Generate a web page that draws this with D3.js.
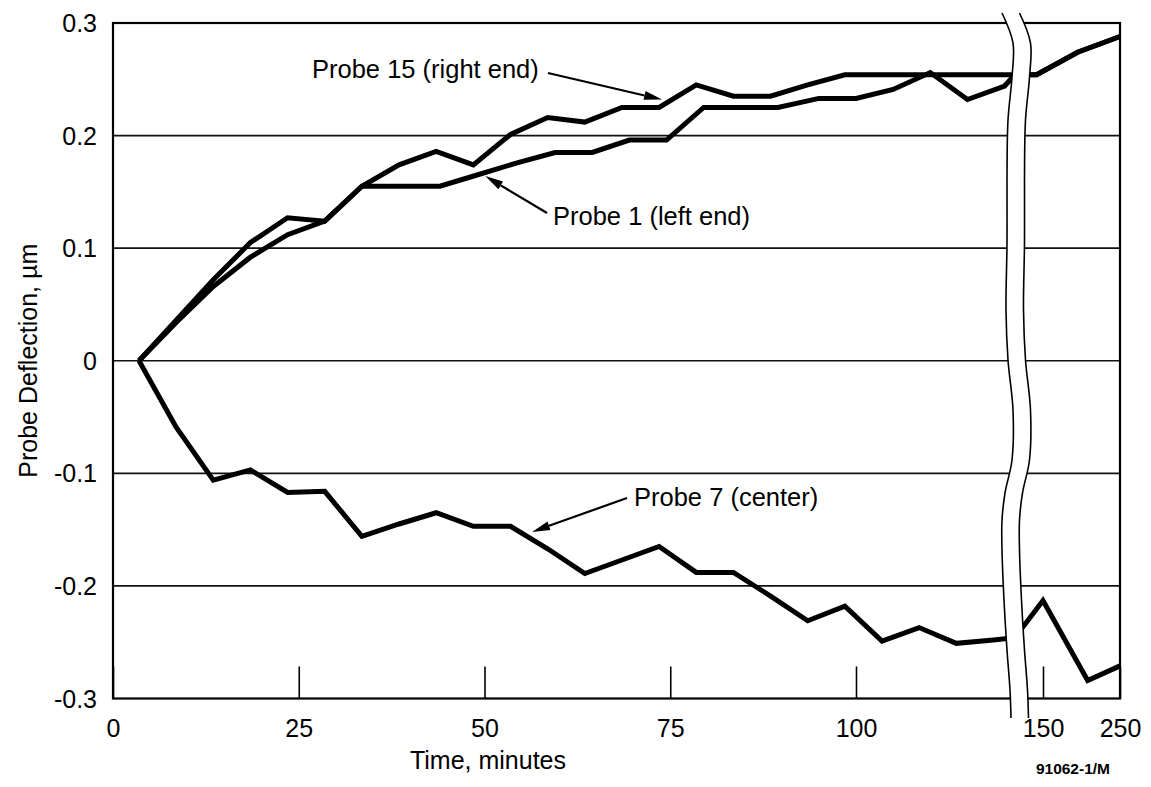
<!DOCTYPE html>
<html>
<head>
<meta charset="utf-8">
<script src="https://cdn.jsdelivr.net/npm/d3@7"></script>
<style>
  html, body { margin: 0; padding: 0; background: #fff; }
  svg { display: block; font-family: "Liberation Sans", Arial, Helvetica, sans-serif; }
</style>
</head>
<body>
<svg id="chart" width="1151" height="787"></svg>
<script>
// Sample times (minutes) of the readings before the axis break
const minutes15 = [3.5, 8.5, 13.5, 18.5, 23.5, 28.5, 33.5, 38.5, 43.5, 48.5, 53.5, 58.5,
                   63.5, 68.5, 73.5, 78.5, 83.5, 88.5, 93.5, 98.5, 103.5, 108.5, 113.5, 118.5];
const minutes1  = [3.5, 8.5, 13.5, 18.5, 23.5, 28.5, 33.5, 38.5, 44, 49, 54.5, 59.5,
                   64.5, 69.5, 74.5, 79.5, 84.5, 89.5, 95, 100, 105, 110, 115, 120];
const minutes7  = [3.5, 8.5, 13.5, 18.5, 23.5, 28.5, 33.5, 38.5, 43.5, 48.5, 53.5, 58.5,
                   63.5, 68.5, 73.5, 78.5, 83.5, 88.5, 93.5, 98.5, 103.5, 108.5, 113.5, 118.5];

// Probe deflections (µm) at those times
const probe15 = [0, 0.036, 0.072, 0.105, 0.127, 0.124, 0.155, 0.174, 0.186, 0.174, 0.201, 0.216,
                 0.212, 0.225, 0.225, 0.245, 0.235, 0.235, 0.245, 0.254, 0.254, 0.254, 0.254, 0.254];
const probe1  = [0, 0.034, 0.066, 0.092, 0.112, 0.124, 0.155, 0.155, 0.155, 0.165, 0.176, 0.185,
                 0.185, 0.196, 0.196, 0.225, 0.225, 0.225, 0.233, 0.233, 0.241, 0.256, 0.232, 0.244];
const probe7  = [0, -0.059, -0.106, -0.097, -0.117, -0.116, -0.156, -0.145, -0.135, -0.147, -0.147, -0.167,
                 -0.189, -0.177, -0.165, -0.188, -0.188, -0.209, -0.231, -0.218, -0.249, -0.237, -0.251, -0.248];

// Readings beyond the break
const lateMinutes15 = [128, 145, 195, 250];
const lateProbe15   = [0.254, 0.254, 0.274, 0.288];
const lateMinutes1  = [128, 145, 195, 250];
const lateProbe1    = [0.254, 0.254, 0.274, 0.288];
const lateMinutes7  = [128, 150, 208, 250];
const lateProbe7    = [-0.246, -0.213, -0.284, -0.271];

// Axis ticks
const xTicks = [0, 25, 50, 75, 100, 150, 250];
const yTicks = [-0.3, -0.2, -0.1, 0, 0.1, 0.2, 0.3];
const gridValues = [-0.2, -0.1, 0, 0.1, 0.2];

const svg = d3.select("#chart");
const FONT = '"Liberation Sans", Arial, Helvetica, sans-serif';

// Broken time axis: linear up to 120 min, compressed after the break
const x = d3.scaleLinear().domain([0, 120, 150, 250]).range([113, 1004.6, 1043, 1120]);
const y = d3.scaleLinear().domain([-0.3, 0.3]).range([698.5, 23]);

const x0 = x(0), x1 = x(250);
const yBottom = y(-0.3), yTop = y(0.3);

// Horizontal grid lines
svg.append("g")
  .selectAll("line")
  .data(gridValues)
  .join("line")
  .attr("x1", x0).attr("x2", x1)
  .attr("y1", d => y(d)).attr("y2", d => y(d))
  .attr("stroke", "#111")
  .attr("stroke-width", 1.6);

// Plot frame
svg.append("rect")
  .attr("x", x0).attr("y", yTop)
  .attr("width", x1 - x0).attr("height", yBottom - yTop)
  .attr("fill", "none")
  .attr("stroke", "#000")
  .attr("stroke-width", 2.2);

// Series
function series(times, values, lateTimes, lateValues) {
  return times.map((t, i) => ({ t, v: values[i] }))
    .concat(lateTimes.map((t, i) => ({ t, v: lateValues[i] })));
}
const allSeries = [
  series(minutes15, probe15, lateMinutes15, lateProbe15),
  series(minutes1, probe1, lateMinutes1, lateProbe1),
  series(minutes7, probe7, lateMinutes7, lateProbe7)
];

const line = d3.line().x(d => x(d.t)).y(d => y(d.v));
svg.append("g")
  .selectAll("path")
  .data(allSeries)
  .join("path")
  .attr("d", line)
  .attr("fill", "none")
  .attr("stroke", "#000")
  .attr("stroke-width", 5)
  .attr("stroke-linejoin", "miter")
  .attr("stroke-miterlimit", 3);

// X axis: inward ticks, labels below
const xAxis = d3.axisBottom(x)
  .tickValues(xTicks)
  .tickSizeInner(-32)
  .tickSizeOuter(0)
  .tickPadding(21)
  .tickFormat(d => String(d));
const gx = svg.append("g").attr("transform", `translate(0,${yBottom})`).call(xAxis);
gx.select(".domain").remove();
gx.attr("font-size", 25).attr("font-family", FONT);
gx.selectAll(".tick line").attr("stroke", "#000").attr("stroke-width", 1.6);
gx.selectAll(".tick text").attr("fill", "#000");

// Y axis labels
const yAxis = d3.axisLeft(y)
  .tickValues(yTicks)
  .tickSize(0)
  .tickPadding(16)
  .tickFormat(d => d === 0 ? "0" : d.toFixed(1));
const gy = svg.append("g").attr("transform", `translate(${x0},0)`).call(yAxis);
gy.select(".domain").remove();
gy.attr("font-size", 25).attr("font-family", FONT);
gy.selectAll(".tick text").attr("fill", "#000").attr("dy", "0.34em");

// Axis break: white band bounded by two wavy rules
const breakCenter = 1010;
const breakWidth = 17.5;
const breakWave = [[-8, 13], [3, 43], [2, 77], [-2, 120], [-3, 177], [-3, 243], [-4, 310],
                   [-2, 360], [3, 410], [2, 460], [-5, 493], [-8, 520], [-8, 550],
                   [-6, 600], [-3, 650], [0, 690], [1, 718]];
const leftEdge = breakWave.map(([dx, py]) => [breakCenter + dx, py]);
const rightEdge = leftEdge.map(([px, py]) => [px + breakWidth, py]);

svg.append("path")
  .datum(leftEdge)
  .attr("d", d3.area().y(d => d[1]).x0(d => d[0]).x1(d => d[0] + breakWidth).curve(d3.curveCatmullRom))
  .attr("fill", "#fff");
const edgeLine = d3.line().curve(d3.curveCatmullRom);
svg.append("g")
  .selectAll("path")
  .data([leftEdge, rightEdge])
  .join("path")
  .attr("d", edgeLine)
  .attr("fill", "none")
  .attr("stroke", "#000")
  .attr("stroke-width", 1.6);

// Callouts
function arrow(fromX, fromY, toX, toY) {
  const g = svg.append("g");
  const ang = Math.atan2(toY - fromY, toX - fromX);
  const len = 18, half = 4.5;
  const bx = toX - len * Math.cos(ang), by = toY - len * Math.sin(ang);
  g.append("line")
    .attr("x1", fromX).attr("y1", fromY)
    .attr("x2", bx).attr("y2", by)
    .attr("stroke", "#000").attr("stroke-width", 2.2);
  const px = -Math.sin(ang) * half, py = Math.cos(ang) * half;
  g.append("path")
    .attr("d", `M${toX},${toY}L${bx + px},${by + py}L${bx - px},${by - py}Z`)
    .attr("fill", "#000");
}

const labelStyle = sel => sel.attr("font-family", FONT).attr("font-size", 25.5).attr("fill", "#000");

svg.append("text").attr("x", 312).attr("y", 78).text("Probe 15 (right end)").call(labelStyle);
arrow(548, 73, x(73.9), y(0.232));

svg.append("text").attr("x", 553).attr("y", 225).text("Probe 1 (left end)").call(labelStyle);
arrow(547, 213, x(50.1), y(0.164));

svg.append("text").attr("x", 634).attr("y", 506).text("Probe 7 (center)").call(labelStyle);
arrow(627, 498, x(56.4), y(-0.152));

// Axis titles
svg.append("text")
  .attr("transform", `translate(37,${y(0)}) rotate(-90)`)
  .attr("text-anchor", "middle")
  .attr("font-family", FONT).attr("font-size", 25).attr("fill", "#000")
  .text("Probe Deflection, µm");

svg.append("text")
  .attr("x", 488).attr("y", 769)
  .attr("text-anchor", "middle")
  .attr("font-family", FONT).attr("font-size", 25).attr("fill", "#000")
  .text("Time, minutes");

svg.append("text")
  .attr("x", 1110).attr("y", 774)
  .attr("text-anchor", "end")
  .attr("font-family", FONT).attr("font-size", 15.5).attr("font-weight", "bold").attr("fill", "#000")
  .text("91062-1/M");
</script>
</body>
</html>
